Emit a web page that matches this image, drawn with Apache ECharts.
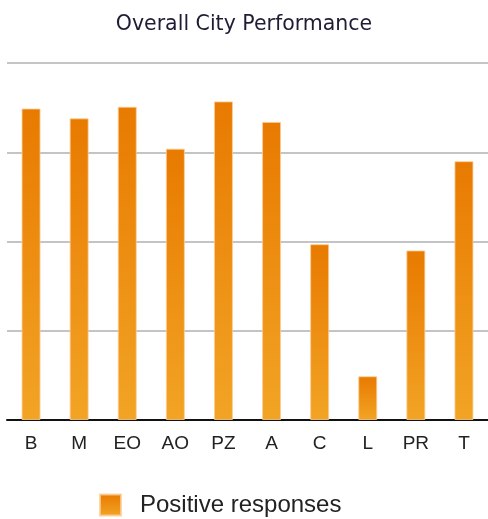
<!DOCTYPE html>
<html>
<head>
<meta charset="utf-8">
<script src="https://cdn.jsdelivr.net/npm/echarts@6/dist/echarts.min.js"></script>
<style>html,body{margin:0;padding:0;background:#fff}#c{width:488px;height:519px}</style>
</head>
<body>
<div id="c"></div>
<script>
const categories = ['B', 'M', 'EO', 'AO', 'PZ', 'A', 'C', 'L', 'PR', 'T'];
const positiveResponses = [3.49, 3.38, 3.51, 3.04, 3.57, 3.34, 1.97, 0.49, 1.90, 2.90];
const seriesName = 'Positive responses';
const chartTitle = 'Overall City Performance';

const chart = echarts.init(document.getElementById('c'), null, {renderer: 'canvas'});
chart.setOption({
  animation: false,
  backgroundColor: '#ffffff',
  title: {
    text: chartTitle,
    left: 'center',
    top: 9,
    textStyle: {fontFamily: 'DejaVu Sans', fontSize: 20.5, fontWeight: 'normal', color: '#1d1d33'}
  },
  legend: {
    data: [seriesName],
    bottom: 2,
    left: 99,
    padding: 0,
    icon: 'rect',
    itemWidth: 21,
    itemHeight: 21,
    itemGap: 10,
    textStyle: {fontFamily: 'Liberation Sans', fontSize: 24, color: '#222', padding: [0, 0, 0, 14]}
  },
  grid: {left: 7, right: -3, top: 63, bottom: 99, containLabel: false},
  xAxis: {
    type: 'category',
    data: categories,
    axisLine: {lineStyle: {color: '#111', width: 2}},
    axisTick: {show: false},
    axisLabel: {fontFamily: 'Liberation Sans', fontSize: 19, color: '#222', margin: 14}
  },
  yAxis: {
    type: 'value',
    min: 0,
    max: 4,
    interval: 1,
    axisLine: {show: false},
    axisTick: {show: false},
    axisLabel: {show: false},
    splitLine: {lineStyle: {color: '#c4c4c4', width: 2}}
  },
  series: [{
    name: seriesName,
    type: 'bar',
    data: positiveResponses,
    barWidth: 19,
    itemStyle: {
      color: new echarts.graphic.LinearGradient(0, 0, 0, 1, [
        {offset: 0, color: '#e87a00'},
        {offset: 1, color: '#f2a425'}
      ]),
      borderColor: 'rgba(252,205,150,0.8)',
      borderWidth: 1
    }
  }]
});
</script>
</body>
</html>
